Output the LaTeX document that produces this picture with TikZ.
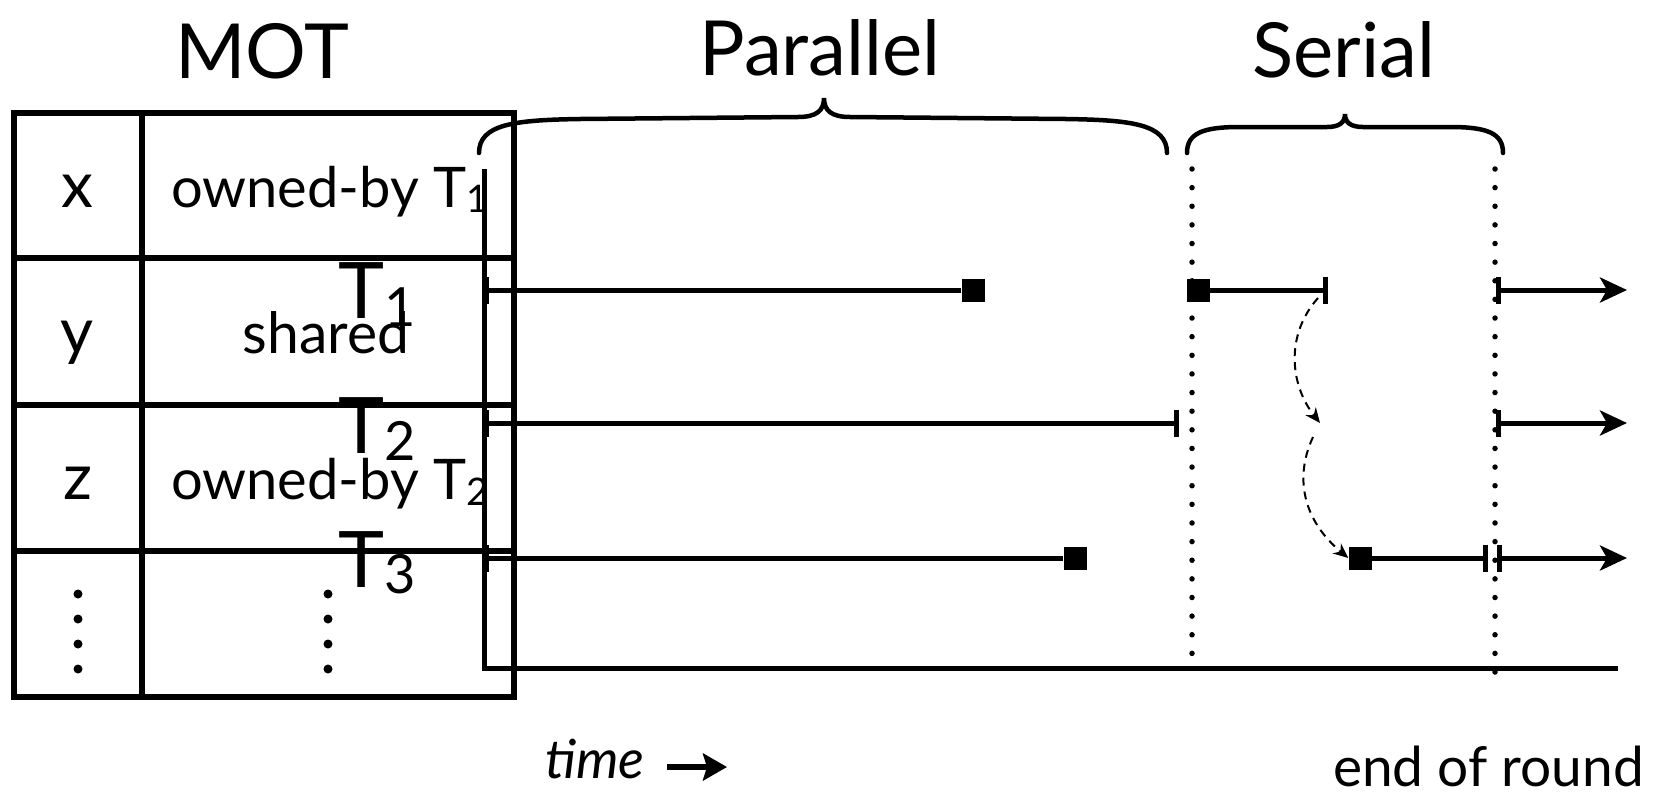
\documentclass[tikz,border=0pt]{standalone}
\usepackage{fontspec}
\setmainfont{Lato}
\usetikzlibrary{arrows.meta}
\newcommand\fsz[1]{\fontsize{#1}{#1}\selectfont}
\begin{document}
\begin{tikzpicture}[x=1pt,y=-1pt,
  tbl/.style={line width=5.5pt},
  thr/.style={line width=5pt},
  brc/.style={line width=4.5pt, line cap=round},
  dotl/.style={line width=5.5pt, line cap=round, dash pattern=on 0pt off 18.63pt},
  sqr/.style={fill=black, draw=none, minimum size=23pt, inner sep=0pt},
  txt/.style={inner sep=0pt, anchor=base},
  txw/.style={inner sep=0pt, anchor=base west},
  barend/.style={-{Bar[width=27pt]}},
  barstart/.style={{Bar[width=27pt]}-},
  nextrnd/.style={{Bar[width=27pt]}-{Stealth[length=27pt,width=25pt,inset=7pt]}},
  hand/.style={line width=2pt, dash pattern=on 8pt off 6pt, -{Stealth[length=15pt,width=13pt]}}
]
\useasboundingbox (0,0) rectangle (1659,793);

% titles
\node[txt, font=\fsz{76}] (mot) at (262,78) {MOT};
\node[txt, font=\fsz{76}] (par) at (820,75) {Parallel};
\node[txt, font=\fsz{76}] (ser) at (1344,77) {Serial};

% table
\draw[tbl] (14,113) rectangle (514,697);
\draw[tbl] (142,113) -- (142,697);
\draw[tbl] (14,258) -- (514,258);
\draw[tbl] (14,405) -- (514,405);
\draw[tbl] (14,551) -- (514,551);

\node[txt, font=\fsz{64}] (vx) at (77,207) {x};
\node[txt, font=\fsz{64}] (vy) at (77,353) {y};
\node[txt, font=\fsz{64}] (vz) at (78,499) {z};
\node[txw, font=\fsz{56}] (ox) at (171,207) {owned-by T\raisebox{-5pt}{\fsz{38}1}};
\node[txt, font=\fsz{57}] (sh) at (326,353) {shared};
\node[txw, font=\fsz{56}] (oz) at (171,499) {owned-by T\raisebox{-6pt}{\fsz{38}2}};
\foreach \yy in {594,619,644,669} {
  \fill (78,\yy) circle (4.5);
  \fill (328,\yy) circle (4.5);
}

% dotted round boundaries
\draw[dotl] (1192,169) -- (1192,672);
\draw[dotl] (1495,169) -- (1495,689);

% braces
\draw[brc] (479,153) .. controls (479,124) and (515,120) .. (580,119) -- (798,117)
  .. controls (816,117) and (824,111) .. (824,98)
  .. controls (824,111) and (832,117) .. (850,117) -- (1066,119)
  .. controls (1131,120) and (1167,124) .. (1167,153);
\draw[brc] (1187,153) .. controls (1187,133) and (1203,127) .. (1240,127) -- (1327,127)
  .. controls (1340,127) and (1345,122) .. (1345,114)
  .. controls (1345,122) and (1350,127) .. (1363,127) -- (1450,127)
  .. controls (1487,127) and (1503,133) .. (1503,153);

% time axis
\draw[thr] (484,169) -- (484,668) -- (1618,668);

% thread labels
\node[txw, font=\fsz{78}] (T1) at (338,318) {T\raisebox{-8pt}{\fsz{54}1}};
\node[txw, font=\fsz{78}] (T2) at (338,453) {T\raisebox{-7pt}{\fsz{54}2}};
\node[txw, font=\fsz{78}] (T3) at (338,587) {T\raisebox{-6pt}{\fsz{54}3}};

% parallel phase
\coordinate (a1) at (484,290);
\coordinate (a2) at (484,423);
\coordinate (a3) at (484,558);
\node[sqr] (p1) at (973,290) {};
\coordinate (b2) at (1179,423);
\node[sqr] (p3) at (1075,558) {};
\draw[thr, barstart] (a1) -- (p1);
\draw[thr, {Bar[width=27pt]}-{Bar[width=27pt]}] (a2) -- (b2);
\draw[thr, barstart] (a3) -- (p3);

% serial phase
\node[sqr] (s1) at (1198,290) {};
\coordinate (e1) at (1328,290);
\node[sqr] (s3) at (1360,558) {};
\coordinate (e3) at (1488,558);
\draw[thr, barend] (s1) -- (e1);
\draw[thr, barend] (s3) -- (e3);

% hand-offs
\coordinate (h1) at (1318,298);
\coordinate (h2) at (1320,423);
\coordinate (h3) at (1313,437);
\draw[hand] (h1) .. controls (1285,335) and (1290,385) .. (h2);
\draw[hand] (h3) .. controls (1293,480) and (1305,522) .. (s3.west);

% next round
\coordinate (n1) at (1496,290); \coordinate (f1) at (1627,290);
\coordinate (n2) at (1496,423); \coordinate (f2) at (1627,423);
\coordinate (n3) at (1497,558); \coordinate (f3) at (1627,558);
\draw[thr, nextrnd] (n1) -- (f1);
\draw[thr, nextrnd] (n2) -- (f2);
\draw[thr, nextrnd] (n3) -- (f3);

% bottom labels
\node[txw, text depth=0pt, font=\fsz{54}\itshape] (time) at (545,778) {time};
\coordinate (ta) at (667,767);
\coordinate (tb) at (727,767);
\draw[line width=6.5pt, -{Stealth[length=24pt,width=27pt,inset=4pt]}] (ta) -- (tb);
\node[txw, text depth=0pt, font=\fsz{55}] (eor) at (1333,786) {end of round};
\end{tikzpicture}
\end{document}
